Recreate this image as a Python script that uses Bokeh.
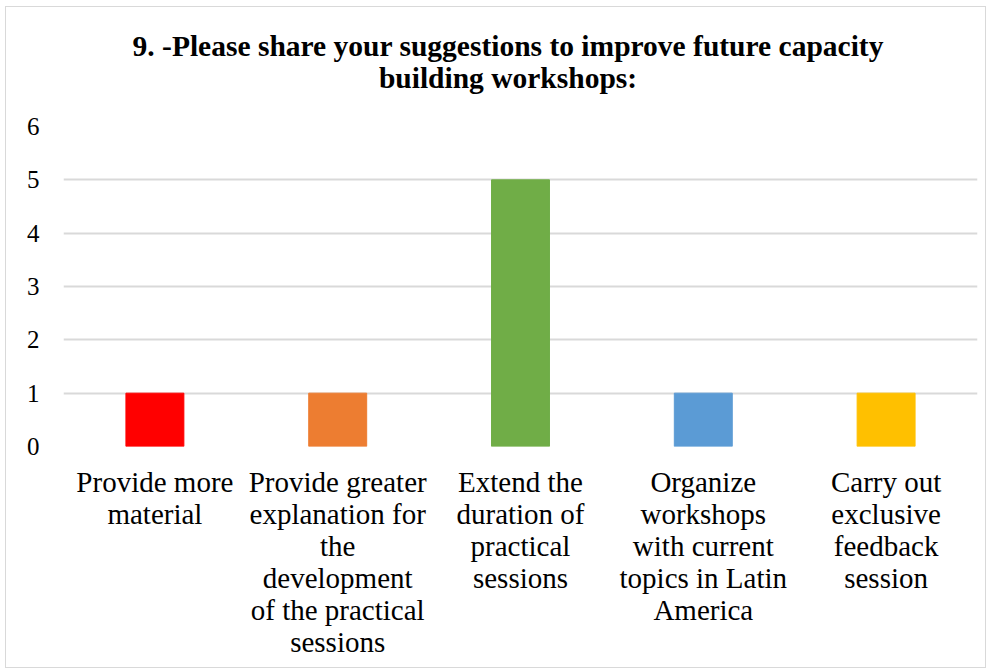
from bokeh.plotting import figure
from bokeh.models import ColumnDataSource, FactorRange, Range1d, FixedTicker, Div
from bokeh.layouts import column
from bokeh.embed import file_html
from bokeh.resources import INLINE

title_lines = ["9. -Please share your suggestions to improve future capacity",
               "building workshops:"]
categories = ["Provide more\nmaterial",
              "Provide greater\nexplanation for\nthe\ndevelopment\nof the practical\nsessions",
              "Extend the\nduration of\npractical\nsessions",
              "Organize\nworkshops\nwith current\ntopics in Latin\nAmerica",
              "Carry out\nexclusive\nfeedback\nsession"]
values = [1, 1, 5, 1, 1]
colors = ["#FF0000", "#ED7D31", "#70AD47", "#5B9BD5", "#FFC000"]
y_ticks = [0, 1, 2, 3, 4, 5, 6]

src = ColumnDataSource(dict(cat=categories, val=values, col=colors))

inner_style = ("display:block; width:979px; height:99px; box-sizing:border-box; "
               "padding-top:23px; padding-left:25px; "
               "margin:0; font-family:'Liberation Serif', serif; font-size:29.5px; "
               "font-weight:bold; line-height:32px; text-align:center; color:#000000; "
               "white-space:nowrap; overflow:hidden")
title_div = Div(text='<div style="%s">%s</div>' % (inner_style, "<br>".join(title_lines)),
                width=979, height=99, styles={"margin": "0", "padding": "0"})

p = figure(width=979, height=561, x_range=FactorRange(*categories), y_range=Range1d(0, 6),
           output_backend="svg", toolbar_location=None, title=None,
           min_border_left=57, min_border_right=8, min_border_top=20, min_border_bottom=221)

p.vbar(x="cat", top="val", width=0.317, color="col", source=src)

p.outline_line_color = None
p.background_fill_color = "white"
p.border_fill_color = "white"

p.xgrid.grid_line_color = None
p.ygrid.grid_line_color = "#d9d9d9"
p.ygrid.grid_line_width = 2
p.yaxis.ticker = FixedTicker(ticks=y_ticks)

for ax in (p.xaxis[0], p.yaxis[0]):
    ax.axis_line_color = None
    ax.major_tick_line_color = None
    ax.minor_tick_line_color = None
    ax.major_tick_out = 0
    ax.major_label_text_font = "Liberation Serif"
    ax.major_label_text_color = "#000000"

p.yaxis.major_label_text_font_size = "25px"
p.yaxis.major_label_standoff = 24
p.xaxis.major_label_text_font_size = "29px"
p.xaxis.major_label_standoff = 19
p.xaxis.major_label_text_line_height = 1.0

layout = column(title_div, p, spacing=0)
layout.styles = {"border": "1px solid #d9d9d9", "margin-left": "5px", "margin-top": "6px",
                 "background-color": "white"}

open("out.html", "w").write(file_html(layout, INLINE))
